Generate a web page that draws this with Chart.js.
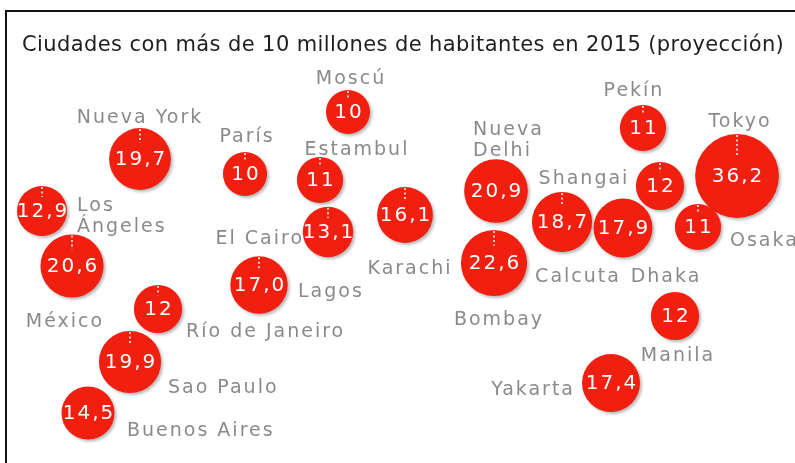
<!DOCTYPE html>
<html>
<head>
<meta charset="utf-8">
<script src="https://cdn.jsdelivr.net/npm/chart.js@4.4.1/dist/chart.umd.min.js"></script>
<style>
    html, body { margin: 0; padding: 0; background: #fff; overflow: hidden; }
    #frame {
        position: absolute; left: 5px; top: 10px;
        width: 820px; height: 480px;
        border: 2px solid #111;
    }
    #cityChart { position: absolute; left: 0; top: 0; }
</style>
</head>
<body>
<div id="frame"></div>
<canvas id="cityChart" width="795" height="463"></canvas>
<script>
// Ciudades con más de 10 millones de habitantes (millones, proyección 2015)
const cities = ['Nueva York', 'París', 'Moscú', 'Estambul', 'Los\nÁngeles', 'El Cairo', 'Karachi',
    'México', 'Lagos', 'Río de Janeiro', 'Sao Paulo', 'Buenos Aires', 'Nueva\nDelhi', 'Bombay',
    'Calcuta', 'Dhaka', 'Shangai', 'Pekín', 'Tokyo', 'Osaka', 'Manila', 'Yakarta'];
const valueText = ['19,7', '10', '10', '11', '12,9', '13,1', '16,1',
    '20,6', '17,0', '12', '19,9', '14,5', '20,9', '22,6',
    '18,7', '17,9', '12', '11', '36,2', '11', '12', '17,4'];
const values = valueText.map(s => parseFloat(s.replace(',', '.')));

// posición de cada burbuja en el plano del gráfico
const posX = [140, 245, 348, 320, 42, 328, 405, 72, 259, 158, 130, 88, 496, 494, 562, 623, 660, 643, 737, 698, 675, 611];
const posY = [159, 174, 112, 180, 211, 232, 215, 266, 285, 309, 362, 413, 191, 263, 222, 228, 186, 128, 176, 227, 316, 383];

// posición de los nombres
const labelX = [140, 247, 351, 357, 77, 304, 410, 65, 298, 186, 168, 127, 473, 499, 578, 666, 584, 634, 740, 730, 678, 575];
const labelY = [116, 135, 77, 148, 204, 237, 267, 320, 290, 330, 386, 429, 128, 318, 275, 275, 177, 89, 120, 239, 354, 388];
const labelAlign = ['center', 'center', 'center', 'center', 'left', 'right', 'center',
    'center', 'left', 'left', 'left', 'left', 'left', 'center',
    'center', 'center', 'center', 'center', 'center', 'left', 'center', 'right'];

const noPin = ['Buenos Aires', 'Nueva\nDelhi', 'Dhaka', 'Manila', 'Yakarta'];

const TITLE = 'Ciudades con más de 10 millones de habitantes en 2015 (proyección)';
const RED = '#f01f10';
const GREY = '#8a8a8a';
const radiusPerSqrt = 6.96;   // área proporcional a la población

const bubblePlugin = {
    id: 'bubbleDecor',
    beforeDatasetsDraw(chart) {
        const ctx = chart.ctx;
        ctx.save();
        ctx.shadowColor = 'rgba(0, 0, 0, 0.28)';
        ctx.shadowOffsetX = 2;
        ctx.shadowOffsetY = 2;
        ctx.shadowBlur = 3;
    },
    afterDatasetsDraw(chart) {
        const ctx = chart.ctx;
        ctx.restore();

        const xs = chart.scales.x;
        const ys = chart.scales.y;
        const meta = chart.getDatasetMeta(0);

        // titulo
        ctx.save();
        ctx.font = "21px 'DejaVu Sans'";
        ctx.letterSpacing = '0.4px';
        ctx.fillStyle = '#1e1e1e';
        ctx.textAlign = 'left';
        ctx.textBaseline = 'alphabetic';
        ctx.fillText(TITLE, 22, 51);
        ctx.restore();

        meta.data.forEach((pt, i) => {
            const r = pt.options.radius;

            // pin punteado
            if (!noPin.includes(cities[i])) {
                ctx.save();
                ctx.strokeStyle = '#fff';
                ctx.lineWidth = 1.5;
                ctx.setLineDash([2, 2.5]);
                ctx.beginPath();
                ctx.moveTo(pt.x, pt.y - r + 1);
                ctx.lineTo(pt.x, pt.y - r + 1 + Math.max(2, 0.6 * r - 5));
                ctx.stroke();
                ctx.restore();
            }

            // valor
            ctx.save();
            ctx.font = "20px 'DejaVu Sans'";
            ctx.letterSpacing = '2px';
            ctx.fillStyle = '#fff';
            ctx.textAlign = 'center';
            ctx.textBaseline = 'middle';
            ctx.fillText(valueText[i], pt.x + 1, pt.y + 1);
            ctx.restore();

            // nombre
            ctx.save();
            ctx.font = "19px 'DejaVu Sans'";
            ctx.letterSpacing = '2px';
            ctx.fillStyle = GREY;
            ctx.textAlign = labelAlign[i];
            ctx.textBaseline = 'middle';
            const lx = xs.getPixelForValue(labelX[i]);
            const ly = ys.getPixelForValue(labelY[i]) + 2;
            cities[i].split('\n').forEach((line, k) => {
                ctx.fillText(line, lx, ly + k * 21);
            });
            ctx.restore();
        });
    }
};

new Chart(document.getElementById('cityChart'), {
    type: 'bubble',
    data: {
        datasets: [{
            data: values.map((v, i) => ({ x: posX[i], y: posY[i], r: radiusPerSqrt * Math.sqrt(v) })),
            backgroundColor: RED,
            borderWidth: 0,
            hoverRadius: 0,
            clip: false
        }]
    },
    options: {
        responsive: false,
        animation: false,
        events: [],
        layout: { padding: 0, autoPadding: false },
        plugins: {
            legend: { display: false },
            tooltip: { enabled: false },
            title: { display: false }
        },
        scales: {
            x: { type: 'linear', min: 0, max: 795, display: false },
            y: { type: 'linear', min: 0, max: 463, reverse: true, display: false }
        }
    },
    plugins: [bubblePlugin]
});
</script>
</body>
</html>
